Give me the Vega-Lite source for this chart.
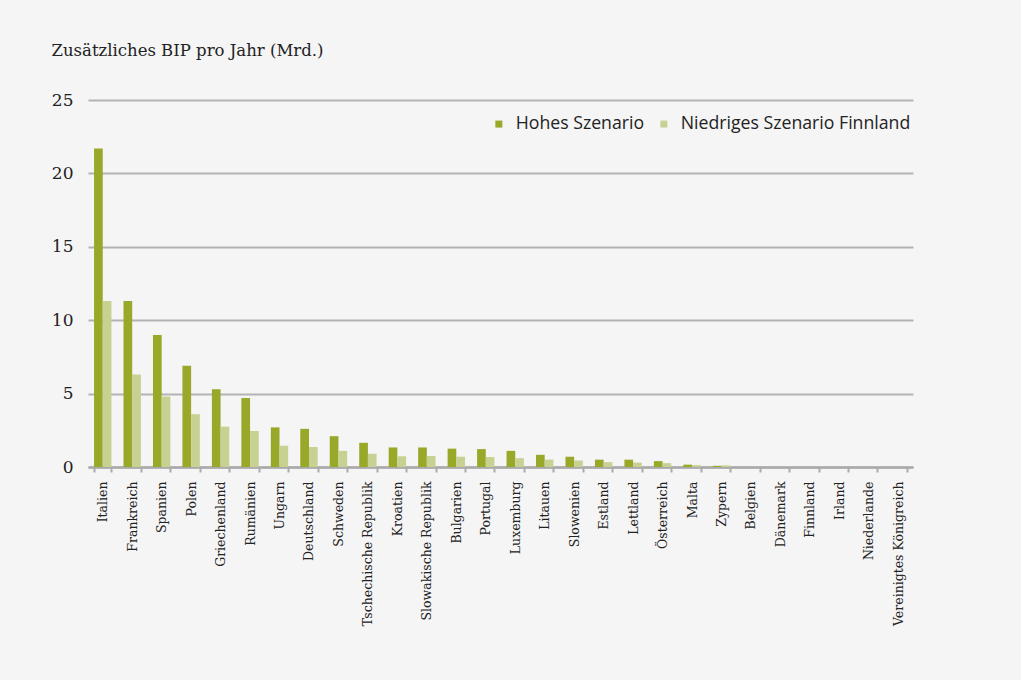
{
  "$schema": "https://vega.github.io/schema/vega-lite/v6.json",
  "width": 825,
  "height": 367,
  "autosize": {"type": "none"},
  "padding": {"left": 88, "top": 100, "right": 108, "bottom": 213},
  "background": "#f5f5f5",
  "config": {"view": {"stroke": null}},
  "data": {
    "values": [
      {"land": "Italien", "szenario": "Hohes Szenario", "wert": 21.7},
      {"land": "Italien", "szenario": "Niedriges Szenario Finnland", "wert": 11.3},
      {"land": "Frankreich", "szenario": "Hohes Szenario", "wert": 11.3},
      {"land": "Frankreich", "szenario": "Niedriges Szenario Finnland", "wert": 6.3},
      {"land": "Spanien", "szenario": "Hohes Szenario", "wert": 9.0},
      {"land": "Spanien", "szenario": "Niedriges Szenario Finnland", "wert": 4.8},
      {"land": "Polen", "szenario": "Hohes Szenario", "wert": 6.9},
      {"land": "Polen", "szenario": "Niedriges Szenario Finnland", "wert": 3.6},
      {"land": "Griechenland", "szenario": "Hohes Szenario", "wert": 5.3},
      {"land": "Griechenland", "szenario": "Niedriges Szenario Finnland", "wert": 2.75},
      {"land": "Rumänien", "szenario": "Hohes Szenario", "wert": 4.7},
      {"land": "Rumänien", "szenario": "Niedriges Szenario Finnland", "wert": 2.45},
      {"land": "Ungarn", "szenario": "Hohes Szenario", "wert": 2.7},
      {"land": "Ungarn", "szenario": "Niedriges Szenario Finnland", "wert": 1.45},
      {"land": "Deutschland", "szenario": "Hohes Szenario", "wert": 2.6},
      {"land": "Deutschland", "szenario": "Niedriges Szenario Finnland", "wert": 1.36},
      {"land": "Schweden", "szenario": "Hohes Szenario", "wert": 2.1},
      {"land": "Schweden", "szenario": "Niedriges Szenario Finnland", "wert": 1.1},
      {"land": "Tschechische Republik", "szenario": "Hohes Szenario", "wert": 1.65},
      {"land": "Tschechische Republik", "szenario": "Niedriges Szenario Finnland", "wert": 0.9},
      {"land": "Kroatien", "szenario": "Hohes Szenario", "wert": 1.33},
      {"land": "Kroatien", "szenario": "Niedriges Szenario Finnland", "wert": 0.73},
      {"land": "Slowakische Republik", "szenario": "Hohes Szenario", "wert": 1.33},
      {"land": "Slowakische Republik", "szenario": "Niedriges Szenario Finnland", "wert": 0.75},
      {"land": "Bulgarien", "szenario": "Hohes Szenario", "wert": 1.25},
      {"land": "Bulgarien", "szenario": "Niedriges Szenario Finnland", "wert": 0.7},
      {"land": "Portugal", "szenario": "Hohes Szenario", "wert": 1.22},
      {"land": "Portugal", "szenario": "Niedriges Szenario Finnland", "wert": 0.68},
      {"land": "Luxemburg", "szenario": "Hohes Szenario", "wert": 1.1},
      {"land": "Luxemburg", "szenario": "Niedriges Szenario Finnland", "wert": 0.6},
      {"land": "Litauen", "szenario": "Hohes Szenario", "wert": 0.83},
      {"land": "Litauen", "szenario": "Niedriges Szenario Finnland", "wert": 0.5},
      {"land": "Slowenien", "szenario": "Hohes Szenario", "wert": 0.7},
      {"land": "Slowenien", "szenario": "Niedriges Szenario Finnland", "wert": 0.44},
      {"land": "Estland", "szenario": "Hohes Szenario", "wert": 0.5},
      {"land": "Estland", "szenario": "Niedriges Szenario Finnland", "wert": 0.33},
      {"land": "Lettland", "szenario": "Hohes Szenario", "wert": 0.5},
      {"land": "Lettland", "szenario": "Niedriges Szenario Finnland", "wert": 0.3},
      {"land": "Österreich", "szenario": "Hohes Szenario", "wert": 0.4},
      {"land": "Österreich", "szenario": "Niedriges Szenario Finnland", "wert": 0.26},
      {"land": "Malta", "szenario": "Hohes Szenario", "wert": 0.16},
      {"land": "Malta", "szenario": "Niedriges Szenario Finnland", "wert": 0.13},
      {"land": "Zypern", "szenario": "Hohes Szenario", "wert": 0.08},
      {"land": "Zypern", "szenario": "Niedriges Szenario Finnland", "wert": 0.11},
      {"land": "Belgien", "szenario": "Hohes Szenario", "wert": 0},
      {"land": "Belgien", "szenario": "Niedriges Szenario Finnland", "wert": 0},
      {"land": "Dänemark", "szenario": "Hohes Szenario", "wert": 0},
      {"land": "Dänemark", "szenario": "Niedriges Szenario Finnland", "wert": 0},
      {"land": "Finnland", "szenario": "Hohes Szenario", "wert": 0},
      {"land": "Finnland", "szenario": "Niedriges Szenario Finnland", "wert": 0},
      {"land": "Irland", "szenario": "Hohes Szenario", "wert": 0},
      {"land": "Irland", "szenario": "Niedriges Szenario Finnland", "wert": 0},
      {"land": "Niederlande", "szenario": "Hohes Szenario", "wert": 0},
      {"land": "Niederlande", "szenario": "Niedriges Szenario Finnland", "wert": 0},
      {"land": "Vereinigtes Königreich", "szenario": "Hohes Szenario", "wert": 0},
      {"land": "Vereinigtes Königreich", "szenario": "Niedriges Szenario Finnland", "wert": 0}
    ]
  },
  "mark": {"type": "bar"},
  "encoding": {
    "x": {
      "field": "land",
      "type": "nominal",
      "sort": null,
      "scale": {"paddingInner": 0.41, "paddingOuter": 0.205},
      "axis": {
        "title": null,
        "labelAngle": -90,
        "labelAlign": "right",
        "labelBaseline": "middle",
        "labelFont": "DejaVu Serif",
        "labelFontSize": 12.5,
        "labelColor": "#222222",
        "labelPadding": 9,
        "labelOverlap": false,
        "labelLimit": 300,
        "tickBand": "extent",
        "ticks": true,
        "tickSize": 5,
        "tickWidth": 2,
        "tickColor": "#aaaaaa",
        "domainColor": "#aaaaaa",
        "domainWidth": 2.5,
        "grid": false
      }
    },
    "y": {
      "field": "wert",
      "type": "quantitative",
      "scale": {"domain": [0, 25], "nice": false},
      "axis": {
        "values": [0, 5, 10, 15, 20, 25],
        "title": "Zusätzliches BIP pro Jahr (Mrd.)",
        "titleAngle": 0,
        "titleX": -37,
        "titleY": -45,
        "titleAlign": "left",
        "titleBaseline": "alphabetic",
        "titleFont": "DejaVu Serif",
        "titleFontSize": 16.5,
        "titleFontWeight": "normal",
        "titleColor": "#222222",
        "titleLimit": 500,
        "labelFont": "DejaVu Serif",
        "labelFontSize": 17,
        "labelColor": "#222222",
        "labelPadding": 15,
        "ticks": false,
        "domain": false,
        "gridColor": "#b3b3b3",
        "gridWidth": 2
      }
    },
    "xOffset": {
      "field": "szenario",
      "type": "nominal",
      "scale": {"domain": ["Hohes Szenario", "Niedriges Szenario Finnland"]}
    },
    "color": {
      "field": "szenario",
      "type": "nominal",
      "scale": {
        "domain": ["Hohes Szenario", "Niedriges Szenario Finnland"],
        "range": ["#99a828", "#c6d192"]
      },
      "legend": {
        "title": null,
        "orient": "none",
        "legendX": 402,
        "legendY": 15,
        "padding": 0,
        "direction": "horizontal",
        "symbolType": "square",
        "symbolSize": 49,
        "symbolStrokeWidth": 0,
        "labelFont": "Open Sans",
        "labelFontSize": 17.7,
        "labelColor": "#222222",
        "labelOffset": 8,
        "labelLimit": 400,
        "columnPadding": 10
      }
    }
  }
}
